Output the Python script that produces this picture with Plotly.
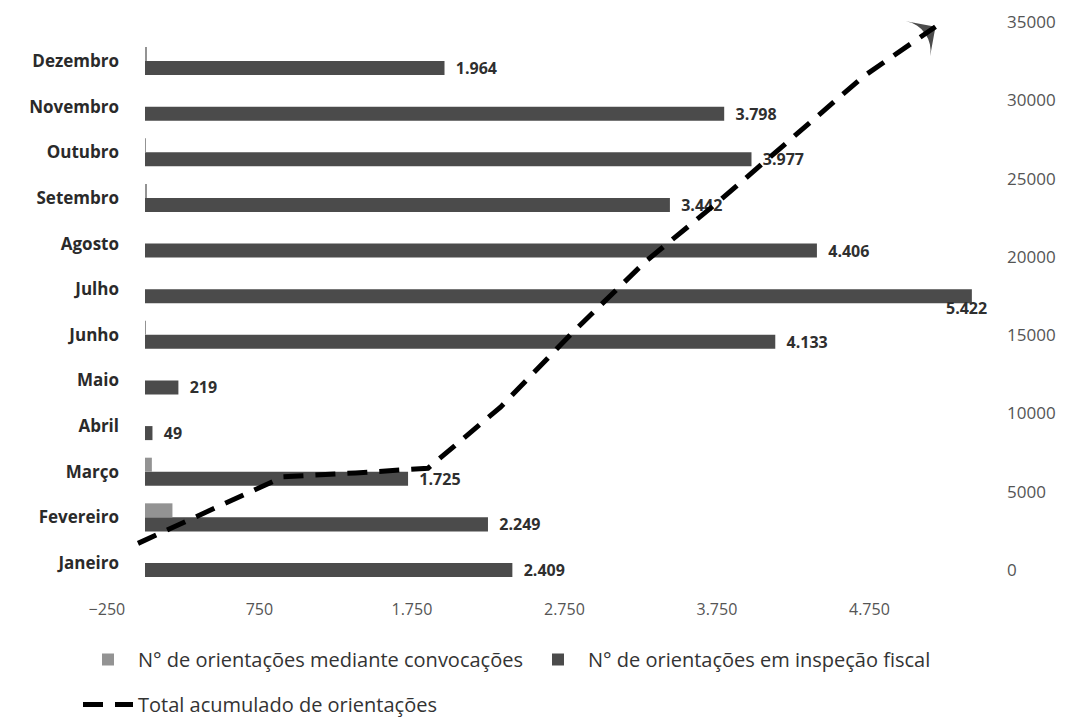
import plotly.graph_objects as go

# ---------------- data ----------------
meses = ["Janeiro", "Fevereiro", "Março", "Abril", "Maio", "Junho",
         "Julho", "Agosto", "Setembro", "Outubro", "Novembro", "Dezembro"]
convocacoes = [0, 180, 45, 0, 0, 5, 0, 0, 12, 5, 0, 12]
inspecao = [2409, 2249, 1725, 49, 219, 4133, 5422, 4406, 3442, 3977, 3798, 1964]
total_acumulado = [1700, 3850, 5950, 6200, 6500, 10400, 15200, 19700,
                   23500, 27500, 31500, 34700]
x_ticks = [-250, 750, 1750, 2750, 3750, 4750]
y2_ticks = [0, 5000, 10000, 15000, 20000, 25000, 30000, 35000]

nome_conv = "N° de orientações mediante convocações"
nome_insp = "N° de orientações em inspeção fiscal"
nome_total = "Total acumulado de orientações"

# ---------------- geometry (screen pixels -> figure pixels) ----------------
OFF = 8                                # page body margin
W, H = 1078, 727
L, R, T, B = 60 - OFF, 1000 - OFF, 22 - OFF, 590 - OFF
zero_px, ppu = 145 - OFF, 0.1525               # bar value axis
cat_jan, cat_dez = 563 - OFF, 61 - OFF         # category axis (bars)
ln_jan, ln_dez = 138 - OFF, 935.5 - OFF        # category axis (line)
y2_zero_px, y2_top_px = 570 - OFF, 22 - OFF    # 0 and 35000 on the right axis

x_rng = [(L - zero_px) / ppu, (R - zero_px) / ppu]
cat_step = (cat_jan - cat_dez) / 11
y_rng = [-(B - cat_jan) / cat_step, 11 + (cat_dez - T) / cat_step]
ln_step = (ln_dez - ln_jan) / 11
x2_rng = [-(ln_jan - L) / ln_step, 11 + (R - ln_dez) / ln_step]
y2_ppu = (y2_zero_px - y2_top_px) / 35000
y2_rng = [-(B - y2_zero_px) / y2_ppu, 35000 + (y2_top_px - T) / y2_ppu]

FONT = "Open Sans, Lato, DejaVu Sans, sans-serif"
DARK = "#4b4b4b"
LIGHT = "#939393"

fig = go.Figure()

textpos = ["none" if m == "Julho" else "outside" for m in meses]

fig.add_trace(go.Bar(
    y=meses, x=inspecao, orientation="h", name=nome_insp,
    marker=dict(color=DARK, line=dict(width=0)),
    texttemplate="\u00a0\u00a0%{x:,d}", textposition=textpos,
    outsidetextfont=dict(family=FONT, size=16, color="#2f2f2f", weight="bold"),
    constraintext="none", cliponaxis=False,
    legendrank=2, xaxis="x", yaxis="y",
))
fig.add_trace(go.Bar(
    y=meses, x=convocacoes, orientation="h", name=nome_conv,
    marker=dict(color=LIGHT, line=dict(width=0)),
    legendrank=1, xaxis="x", yaxis="y",
))

fig.add_trace(go.Scatter(
    x=meses, y=total_acumulado, mode="lines", name=nome_total,
    line=dict(color="black", width=5, dash="20px,12px"),
    xaxis="x2", yaxis="y2", legend="legend2", cliponaxis=False,
))
fig.add_trace(go.Scatter(
    x=meses[-2:], y=total_acumulado[-2:], mode="markers", showlegend=False,
    marker=dict(symbol="arrow-wide", angleref="previous", size=[0, 30],
                color="black", line=dict(width=0)),
    xaxis="x2", yaxis="y2", cliponaxis=False, hoverinfo="skip",
))

# label for Julho placed under the bar end, as in the reference
j = meses.index("Julho")
fig.add_annotation(
    x=inspecao[j], y=meses[j], xref="x", yref="y",
    text=f"{inspecao[j]:,}".replace(",", "."), showarrow=False,
    xanchor="right", yanchor="middle", xshift=17, yshift=-19,
    font=dict(family=FONT, size=16, color="#2f2f2f", weight="bold"),
)

fig.update_layout(
    width=W, height=H,
    margin=dict(l=L, r=W - R, t=T, b=H - B, pad=0, autoexpand=False),
    paper_bgcolor="white", plot_bgcolor="white",
    separators=",.",
    barmode="group", bargap=0.385, bargroupgap=0,
    font=dict(family=FONT, size=15, color="#444"),
    showlegend=True,
    xaxis=dict(
        range=x_rng, tickvals=x_ticks, tickformat=",d",
        showgrid=False, zeroline=False, showline=False, ticks="",
        ticklabelstandoff=8, anchor="y", automargin=False,
        tickfont=dict(family=FONT, size=16, color="#555"),
    ),
    yaxis=dict(
        type="category", range=y_rng, categoryorder="array", categoryarray=meses,
        showgrid=False, zeroline=False, showline=False, ticks="",
        anchor="free", position=(143 - OFF - L) / (R - L), ticklabelstandoff=24,
        automargin=False,
        tickfont=dict(family=FONT, size=17, color="#2a2a2a", weight="bold"),
    ),
    xaxis2=dict(
        type="category", range=x2_rng, categoryorder="array", categoryarray=meses,
        overlaying="x", anchor="y2", visible=False,
    ),
    yaxis2=dict(
        range=y2_rng, tickvals=y2_ticks, tickformat="d",
        overlaying="y", side="right", anchor="x2",
        showgrid=False, zeroline=False, showline=False, ticks="",
        ticklabelstandoff=6, automargin=False,
        tickfont=dict(family=FONT, size=17, color="#555"),
    ),
    legend=dict(
        orientation="h", x=(70 - L) / (R - L), xanchor="left",
        y=(B - 632) / (B - T), yanchor="top",
        font=dict(family=FONT, size=20, color="#333"),
        itemwidth=50, traceorder="normal", bgcolor="rgba(0,0,0,0)",
    ),
    legend2=dict(
        orientation="h", x=(70 - L) / (R - L), xanchor="left",
        y=(B - 677) / (B - T), yanchor="top",
        font=dict(family=FONT, size=20, color="#333"),
        itemwidth=50, bgcolor="rgba(0,0,0,0)",
    ),
)

fig.write_html("out.html")
